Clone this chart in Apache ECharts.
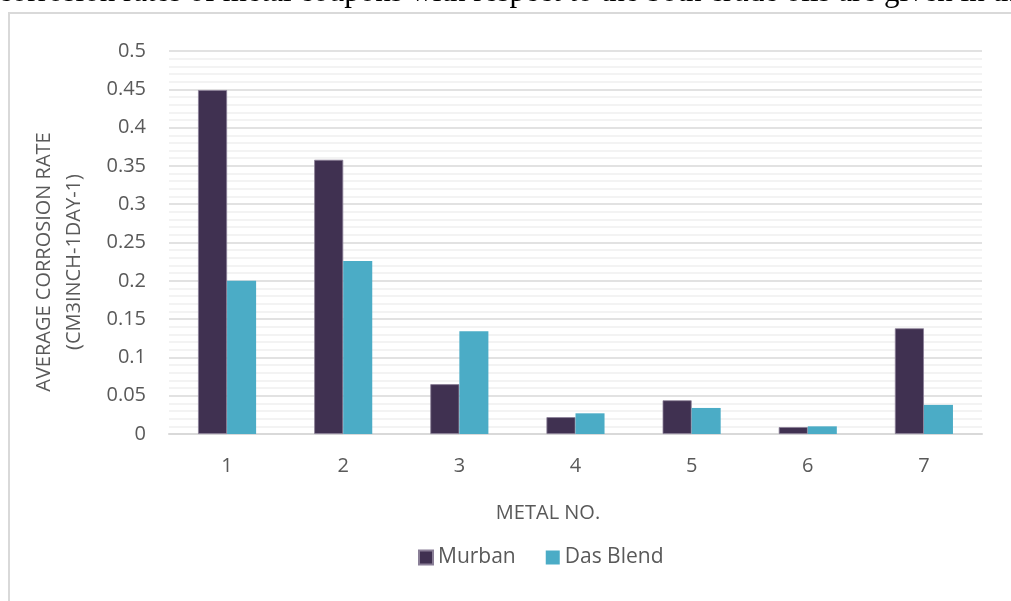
<!DOCTYPE html>
<html>
<head>
<meta charset="utf-8">
<script src="https://cdn.jsdelivr.net/npm/echarts@6/dist/echarts.min.js"></script>
<style>
  html, body { margin: 0; padding: 0; background: #fff; }
  #chart { width: 1011px; height: 601px; }
</style>
</head>
<body>
<div id="chart"></div>
<script>
const metals = ['1', '2', '3', '4', '5', '6', '7'];
const murban = [0.449, 0.358, 0.065, 0.022, 0.044, 0.009, 0.138];
const dasBlend = [0.200, 0.226, 0.134, 0.027, 0.034, 0.010, 0.038];

const chart = echarts.init(document.getElementById('chart'));
const labelFont = '"Open Sans", "Noto Sans", sans-serif';

chart.setOption({
  animation: false,
  backgroundColor: '#fff',
  textStyle: { fontFamily: labelFont, color: '#595959' },
  graphic: [
    {
      type: 'rect',
      shape: { x: 9, y: 13, width: 1020, height: 600 },
      style: { fill: '#fff', stroke: '#d9d9d9', lineWidth: 2 },
      z: -10
    },
    {
      // cut-off line of the page text above the chart
      type: 'text',
      x: -63,
      y: 8,
      style: {
        text: 'rage corrosion rates of metal coupons with respect to the both crude oils are given in the',
        font: '31px "Liberation Serif", serif',
        fill: '#000',
        verticalAlign: 'bottom'
      },
      z: -5
    },
    {
      type: 'text',
      x: 59,
      y: 262,
      rotation: Math.PI / 2,
      style: {
        text: 'AVERAGE CORROSION RATE\n(CM3INCH-1DAY-1)',
        font: '20px "Open Sans", sans-serif',
        fill: '#595959',
        align: 'center',
        verticalAlign: 'middle',
        lineHeight: 30
      }
    },
    {
      type: 'text',
      x: 548,
      y: 513,
      style: {
        text: 'METAL NO.',
        font: '20px "Open Sans", sans-serif',
        fill: '#595959',
        align: 'center',
        verticalAlign: 'middle'
      }
    }
  ],
  grid: { left: 169, right: 29, top: 51, bottom: 167 },
  legend: {
    left: 413,
    top: 542,
    itemWidth: 14,
    itemHeight: 14,
    itemGap: 30,
    icon: 'rect',
    textStyle: { fontSize: 21, color: '#595959', fontFamily: labelFont },
    data: ['Murban', 'Das Blend']
  },
  xAxis: {
    type: 'category',
    data: metals,
    axisLine: { lineStyle: { color: '#d9d9d9', width: 2 } },
    axisTick: { show: false },
    axisLabel: { fontSize: 20, color: '#595959', margin: 22 }
  },
  yAxis: {
    type: 'value',
    min: 0,
    max: 0.5,
    interval: 0.05,
    axisLine: { show: false },
    axisTick: { show: false },
    axisLabel: { fontSize: 20, color: '#595959', margin: 23 },
    splitLine: { lineStyle: { color: '#d9d9d9', width: 1.5 } },
    minorTick: { show: false, splitNumber: 5 },
    minorSplitLine: { show: true, lineStyle: { color: '#f0f0f0', width: 1.5 } }
  },
  series: [
    {
      name: 'Murban',
      type: 'bar',
      data: murban,
      barGap: '0%',
      barCategoryGap: '50%',
      itemStyle: { color: '#403151', borderColor: '#8a7f97', borderWidth: 0.8 }
    },
    {
      name: 'Das Blend',
      type: 'bar',
      data: dasBlend,
      itemStyle: { color: '#4bacc6' }
    }
  ]
});
</script>
</body>
</html>
